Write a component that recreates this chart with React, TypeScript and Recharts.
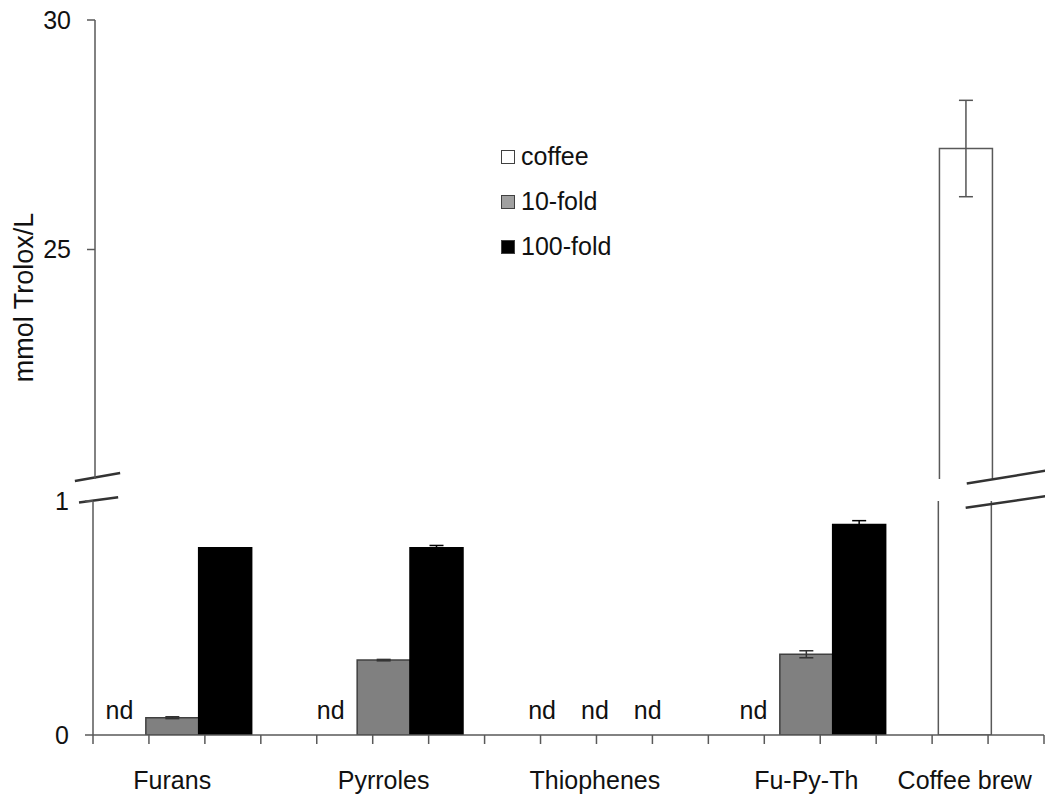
import {
  BarChart,
  Bar,
  XAxis,
  YAxis,
  ErrorBar,
  Legend,
  ReferenceLine,
  ReferenceDot,
} from "recharts";

// "nd" = not detected, null = not measured
const categories = ["Furans", "Pyrroles", "Thiophenes", "Fu-Py-Th", "Coffee brew"];
const coffee = ["nd", "nd", "nd", "nd", 27.2];
const coffeeErr = [0, 0, 0, 0, 1.05];
const tenFold = [0.074, 0.32, "nd", 0.345, null];
const tenFoldErr = [0.004, 0.003, 0, 0.015, 0];
const hundredFold = [0.8, 0.8, "nd", 0.9, null];
const hundredFoldErr = [0, 0.01, 0, 0.016, 0];

const upperTicks = [20, 25, 30];
const lowerTicks = [0, 1];

const series = [
  { key: "coffee", name: "coffee", values: coffee, err: coffeeErr, fill: "#ffffff", stroke: "#595959" },
  { key: "tenFold", name: "10-fold", values: tenFold, err: tenFoldErr, fill: "#808080", stroke: "#404040" },
  { key: "hundredFold", name: "100-fold", values: hundredFold, err: hundredFoldErr, fill: "#000000", stroke: "#000000" },
];

// one slot per bar, plus a gap slot after each category
const rows: any[] = [];
const emptyRow = () => {
  const r: any = { slot: rows.length, label: "", nd: false };
  series.forEach((s) => {
    r[s.key] = null;
    r[s.key + "Err"] = null;
  });
  return r;
};
categories.forEach((cat, ci) => {
  const present = series.filter((s) => s.values[ci] !== null);
  const mid = Math.floor((present.length - 1) / 2);
  present.forEach((s, k) => {
    const v = s.values[ci];
    const r = emptyRow();
    r.label = k === mid ? cat : "";
    if (v === "nd") {
      r.nd = true;
    } else {
      r[s.key] = v;
      r[s.key + "Err"] = s.err[ci];
    }
    rows.push(r);
  });
  rows.push(emptyRow());
});
const slotTicks = rows.map((_, i) => i).concat([rows.length]);
const ndSlots = rows.filter((r) => r.nd).map((r) => r.slot);

const FONT = "'Liberation Sans', Arial, sans-serif";
const AXIS = "#595959";
const tickStyle = { fontSize: 25, fill: "#111" };

const YTitle = (props: any) => {
  const vb = props.viewBox;
  const cx = 24;
  const cy = vb.y + vb.height / 2 + 48;
  return (
    <text
      x={cx}
      y={cy}
      transform={`rotate(-90, ${cx}, ${cy})`}
      textAnchor="middle"
      dominantBaseline="central"
      fontSize={27}
      fill="#111"
    >
      mmol Trolox/L
    </text>
  );
};

const LegendBox = () => (
  <div style={{ fontFamily: FONT, fontSize: 25, color: "#111" }}>
    {series.map((s) => (
      <div key={s.key} style={{ display: "flex", alignItems: "center", height: 45 }}>
        <span
          style={{
            display: "inline-block",
            width: 12,
            height: 12,
            background: s.key === "tenFold" ? "#a0a0a0" : s.fill,
            border: "1px solid #404040",
            marginRight: 6,
          }}
        />
        {s.name}
      </div>
    ))}
  </div>
);

// bar outline left open on the side where the axis is broken
const OpenBar = (openTop: boolean) => (props: any) => {
  const { x, y, width, height } = props;
  if (!height || height <= 0) return <g />;
  const d = openTop
    ? `M${x},${y} L${x},${y + height} L${x + width},${y + height} L${x + width},${y}`
    : `M${x},${y + height} L${x},${y} L${x + width},${y} L${x + width},${y + height}`;
  return (
    <g>
      <rect x={x} y={y} width={width} height={height} fill="#fff" />
      <path d={d} fill="none" stroke="#595959" strokeWidth={1.5} />
    </g>
  );
};

const breakStyle = { stroke: "#333", strokeWidth: 2.5 };

export default function App() {
  return (
    <div
      style={{
        position: "absolute",
        left: 0,
        top: 0,
        width: 1045,
        height: 804,
        background: "#fff",
        fontFamily: FONT,
      }}
    >
      {/* upper panel, 20 - 30 */}
      <div style={{ position: "absolute", left: 0, top: 0 }}>
        <BarChart
          width={1045}
          height={490}
          data={rows}
          margin={{ top: 20, right: 0, bottom: 11, left: 0 }}
          barCategoryGap={0}
          barGap={0}
        >
          <XAxis xAxisId="cat" dataKey="slot" type="category" hide />
          <XAxis type="number" domain={[0, rows.length]} hide />
          <YAxis
            domain={[20, 30]}
            ticks={upperTicks}
            allowDataOverflow
            width={95}
            tickSize={8}
            tickMargin={16}
            tick={tickStyle}
            axisLine={{ stroke: AXIS, strokeWidth: 1.5 }}
            tickLine={{ stroke: AXIS, strokeWidth: 1.5 }}
            label={{ content: YTitle }}
          />
          <Bar
            xAxisId="cat"
            dataKey="coffee"
            fill="#ffffff"
            shape={OpenBar(false)}
            isAnimationActive={false}
          >
            <ErrorBar dataKey="coffeeErr" width={7} stroke="#555" strokeWidth={1.5} direction="y" />
          </Bar>
          <ReferenceLine
            segment={[{ x: -0.36, y: 19.956 }, { x: 0.45, y: 20.13 }]}
            ifOverflow="visible"
            {...breakStyle}
          />
          <ReferenceLine
            segment={[{ x: 15.6, y: 19.9 }, { x: 17.3, y: 20.24 }]}
            ifOverflow="visible"
            {...breakStyle}
          />
        </BarChart>
      </div>

      {/* lower panel, 0 - 1 */}
      <div style={{ position: "absolute", left: 0, top: 0 }}>
        <BarChart
          width={1045}
          height={804}
          data={rows}
          margin={{ top: 501, right: 1, bottom: 0, left: 0 }}
          barCategoryGap={0}
          barGap={0}
        >
          <XAxis
            xAxisId="cat"
            dataKey="slot"
            type="category"
            interval={0}
            height={60}
            axisLine={false}
            tickLine={false}
            tickMargin={21}
            tick={tickStyle}
            tickFormatter={(v: any) => rows[v]?.label ?? ""}
          />
          <XAxis
            type="number"
            domain={[0, rows.length]}
            ticks={slotTicks}
            interval={0}
            height={9}
            tickSize={9}
            tickFormatter={() => ""}
            axisLine={{ stroke: AXIS, strokeWidth: 1.5 }}
            tickLine={{ stroke: AXIS, strokeWidth: 1.5 }}
          />
          <YAxis
            domain={[0, 1]}
            ticks={lowerTicks}
            allowDataOverflow
            width={93}
            tickSize={8}
            tickMargin={16}
            tick={tickStyle}
            axisLine={{ stroke: AXIS, strokeWidth: 1.5 }}
            tickLine={{ stroke: AXIS, strokeWidth: 1.5 }}
          />
          <Legend
            layout="vertical"
            align="center"
            verticalAlign="middle"
            content={LegendBox}
            wrapperStyle={{ left: 501, top: 134, width: 160, height: 140 }}
          />
          {series.map((s) => (
            <Bar
              key={s.key}
              xAxisId="cat"
              name={s.name}
              dataKey={s.key}
              stackId="s"
              fill={s.fill}
              stroke={s.stroke}
              strokeWidth={1.5}
              shape={s.key === "coffee" ? OpenBar(true) : undefined}
              isAnimationActive={false}
            >
              {s.key !== "coffee" && (
                <ErrorBar
                  dataKey={s.key + "Err"}
                  width={7}
                  stroke={s.key === "hundredFold" ? "#000" : "#333"}
                  strokeWidth={1.5}
                  direction="y"
                />
              )}
            </Bar>
          ))}
          {ndSlots.map((slot) => (
            <ReferenceDot
              key={slot}
              xAxisId="cat"
              x={slot}
              y={0}
              r={1}
              fill="none"
              stroke="none"
              ifOverflow="visible"
              label={{ value: "nd", position: "top", offset: 15, fontSize: 25, fill: "#111" }}
            />
          ))}
          <ReferenceLine
            segment={[{ x: -0.25, y: 0.994 }, { x: 0.45, y: 1.016 }]}
            ifOverflow="visible"
            {...breakStyle}
          />
          <ReferenceLine
            segment={[{ x: 15.6, y: 0.971 }, { x: 17.4, y: 1.033 }]}
            ifOverflow="visible"
            {...breakStyle}
          />
        </BarChart>
      </div>
    </div>
  );
}
